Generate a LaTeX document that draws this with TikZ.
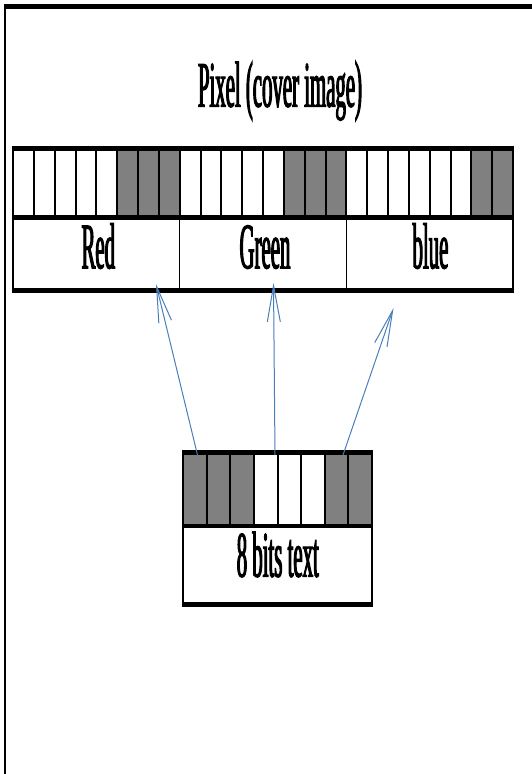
\documentclass[tikz,border=0pt]{standalone}
\usepackage{fontspec}
\newfontfamily\cond[FakeStretch=0.32,FakeBold=1.6]{Liberation Serif}
\usetikzlibrary{arrows.meta}
\definecolor{cellgray}{RGB}{128,128,128}
\definecolor{arrowblue}{RGB}{74,126,187}
\begin{document}
\begin{tikzpicture}[x=1pt,y=-1pt,
  lab/.style={font=\cond\fontsize{65}{70}\selectfont, anchor=base, inner sep=0pt},
  hbar/.style={line width=5pt},
  vbar/.style={line width=2pt},
  thinbar/.style={line width=1.2pt},
  conn/.style={draw=arrowblue, line width=1pt, -{Straight Barb[length=36pt,width=13pt]}}
]
\useasboundingbox (0,0) rectangle (532,774);
% frame
\draw[hbar] (4,6.5) -- (532,6.5);
\draw[vbar] (5,4) -- (5,774);

% boxes as named nodes (geometry only)
\node[inner sep=0pt, minimum width=500pt, minimum height=142pt] (pixbox) at (263,219.5) {};
\node[inner sep=0pt, minimum width=189pt, minimum height=152pt] (bitbox) at (277.5,528.5) {};

% pixel bits
\foreach \i in {5,6,7,13,14,15,22,23}
  \fill[cellgray] ({13+\i*500/24},148.5) rectangle ({13+(\i+1)*500/24},217.5);
\foreach \i in {0,...,24}
  \draw[vbar] ({13+\i*500/24},148.5) -- ({13+\i*500/24},217.5);
\draw[vbar] (13,217.5) -- (13,290.5);
\draw[vbar] (513,217.5) -- (513,290.5);
\draw[thinbar] ({13+8*500/24},217.5) -- ({13+8*500/24},290.5);
\draw[thinbar] ({13+16*500/24},217.5) -- ({13+16*500/24},290.5);
\draw[hbar] (12,148.5) -- (514,148.5);
\draw[hbar] (12,217.5) -- (514,217.5);
\draw[hbar] (12,290.5) -- (514,290.5);

\node[lab] (title) at (280,106.7) {Pixel (cover image)};
\node[lab] (red) at (98.3,268.3) {Red};
\node[lab] (green) at (265,268.3) {Green};
\node[lab] (blue) at (430.5,268.3) {blue};

% 8-bit text
\foreach \i in {0,1,2,6,7}
  \fill[cellgray] ({183+\i*189/8},452.5) rectangle ({183+(\i+1)*189/8},526);
\foreach \i in {0,...,8}
  \draw[vbar] ({183+\i*189/8},452.5) -- ({183+\i*189/8},526);
\draw[vbar] (183,526) -- (183,604.5);
\draw[vbar] (372,526) -- (372,604.5);
\draw[hbar] (182,452.5) -- (373,452.5);
\draw[line width=4.5pt] (182,526) -- (373,526);
\draw[hbar] (182,604.5) -- (373,604.5);
\node[lab] (text8) at (277.8,576.7) {8 bits text};

% connectors
\coordinate (s1) at (197.5,455);
\coordinate (s2) at (275,455);
\coordinate (s3) at (343,455);
\coordinate (t1) at (156,284);
\coordinate (t2) at (273.5,283);
\coordinate (t3) at (393.5,308);
\draw[conn] (s1) -- (t1);
\draw[conn] (s2) -- (t2);
\draw[conn] (s3) -- (t3);
\end{tikzpicture}
\end{document}
